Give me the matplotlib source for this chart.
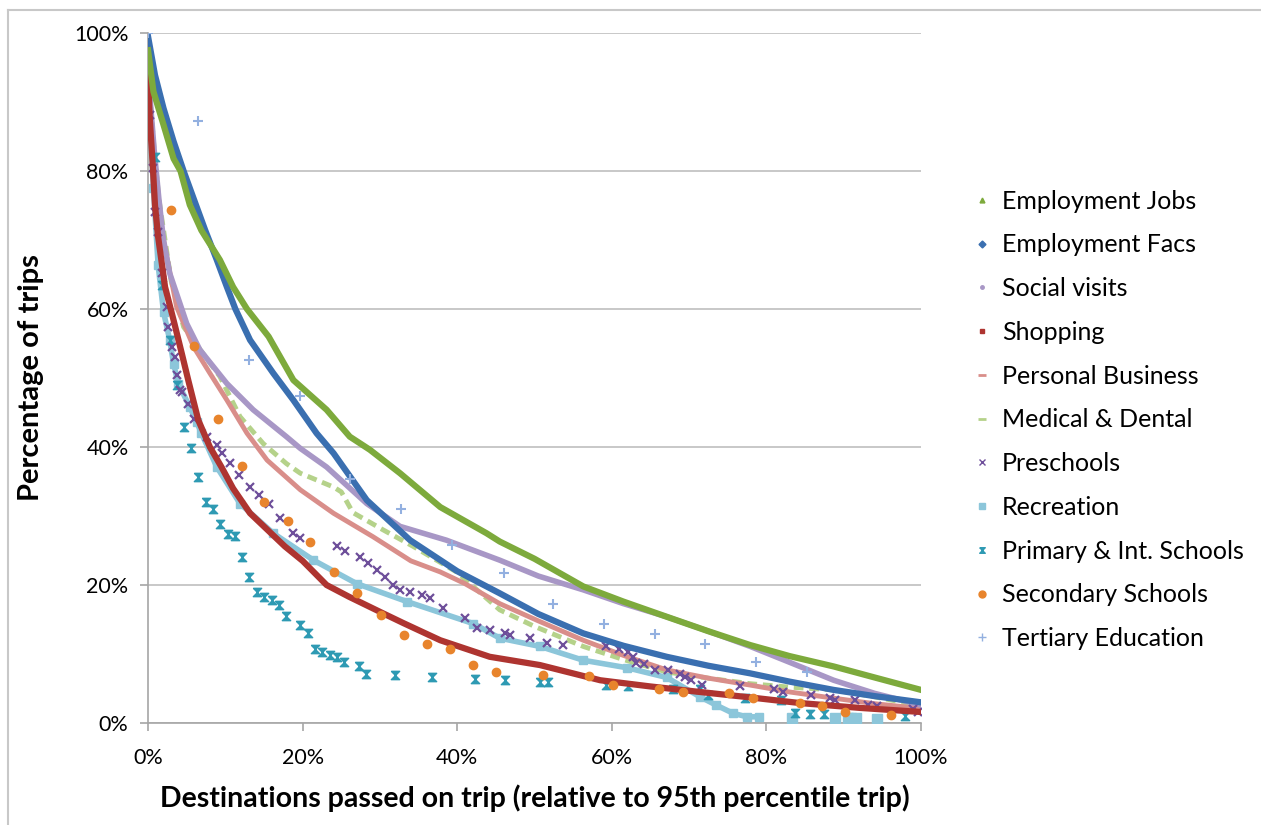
import matplotlib
matplotlib.use("Agg")
import matplotlib.pyplot as plt
from matplotlib.lines import Line2D
from matplotlib.ticker import PercentFormatter

plt.rcParams['font.family'] = ['Lato', 'DejaVu Sans']

# values (percent)
jobs_x = [0, 0.7, 2.0, 3.3, 4.2, 5.4, 6.9, 9.3, 11.0, 12.8, 15.6, 18.8, 21.0, 23.1, 26.1, 28.7, 32.6, 37.8,
          43.8, 45.5, 50.0, 56.3, 61.5, 67.1, 72.5, 77.9, 83.0, 88.7, 94.0, 100]
jobs_y = [97.5, 91.5, 86.7, 81.8, 80, 75.1, 71.4, 67.1, 63.2, 60, 56, 49.7, 47.5, 45.4, 41.5, 39.6, 36.2, 31.3,
          27.5, 26.3, 23.8, 19.8, 17.6, 15.4, 13.3, 11.3, 9.7, 8.2, 6.6, 4.8]

facs_x = [0, 0.9, 2.0, 3.3, 4.6, 5.9, 7.4, 8.9, 10.2, 11.3, 13.2, 16.2, 18.8, 21.8, 24.0, 28.3, 33.9, 40.0,
          45.5, 50.5, 56.3, 61.5, 67.1, 72.5, 77.9, 83.0, 88.7, 94.0, 100]
facs_y = [99.5, 93.9, 89.1, 84.3, 80, 76.0, 71.4, 67.1, 63.2, 60, 55.5, 50.7, 46.8, 42.0, 39.1, 32.3, 26.5,
          22.0, 18.8, 15.8, 13.0, 11.2, 9.6, 8.3, 7.2, 6.0, 4.8, 3.9, 3.0]

social_x = [0, 0.3, 0.8, 1.4, 2.0, 2.8, 5.0, 6.7, 10.2, 13.6, 17.9, 19.7, 23.1, 28.3, 32.6, 38.6, 45.5, 50.5,
            56.3, 61.5, 67.1, 72.5, 77.9, 83.0, 88.7, 94.0, 100]
social_y = [96, 90, 83, 76, 70, 65.2, 57.9, 54.1, 49.2, 45.4, 41.5, 39.8, 37.1, 31.8, 28.5, 26.5, 23.6, 21.3,
            19.3, 17.3, 15.4, 13.3, 11.1, 8.8, 6.2, 4.3, 2.6]

shop_x = [0, 0.2, 0.6, 0.9, 1.3, 2.2, 3.3, 4.4, 5.2, 6.5, 8.0, 9.5, 11.0, 13.2, 17.7, 20.0, 23.1, 26.0, 30.4,
          33.0, 37.8, 44.2, 50.7, 58.5, 65.0, 71.4, 78.0, 84.3, 92.0, 100]
shop_y = [94, 88, 81, 75, 70.5, 63.2, 58.4, 53.4, 49.7, 43.9, 40, 37.1, 34.0, 30.4, 25.6, 23.5, 20, 18.3, 15.9,
          14.5, 12.0, 9.6, 8.4, 6.2, 5.3, 4.5, 3.7, 2.9, 2.2, 1.6]

pers_x = [0, 0.3, 0.7, 1.2, 2.0, 3.7, 5.9, 8.0, 10.2, 12.8, 15.4, 19.7, 24.0, 29.1, 34.0, 37.8, 41.0, 45.5,
          50.5, 56.3, 61.5, 67.1, 72.5, 77.9, 83.0, 88.7, 94.0, 100]
pers_y = [94, 88, 82, 75, 70, 60.3, 54.5, 50.7, 46.8, 42, 38.1, 33.8, 30.4, 27.0, 23.5, 21.9, 20.2, 17.3,
          14.8, 12.0, 9.8, 7.7, 6.5, 5.5, 4.5, 3.6, 2.8, 2.1]

med_x = [0, 0.3, 0.8, 1.4, 2.2, 3.0, 4.6, 9.3, 11.9, 14.9, 17.9, 19.7, 24.0, 25.0, 26.5, 30.4, 34.3, 39.9,
         45.5, 50.0, 56.3, 61.5, 67.1, 72.5, 77.9, 83.0, 88.7, 94.0, 99.4]
med_y = [96, 90, 83, 76, 70, 64, 57.4, 50.2, 44.4, 40.5, 37.6, 36.2, 34.2, 33.5, 30.5, 28.0, 25.6, 21.9,
         16.4, 14.0, 11.1, 9.2, 7.4, 6.5, 5.7, 5.2, 4.8, 3.8, 2.6]

pre_x = [0.2, 0.7, 0.9, 1.3, 1.8, 2.4, 2.6, 3.1, 3.5, 3.7, 4.1, 4.4, 5.2, 6.0, 7.6, 8.9, 9.6, 10.6, 11.8, 13.2,
         14.4, 15.6, 17.1, 18.8, 19.7, 24.4, 25.5, 27.4, 28.5, 29.6, 30.6, 31.7, 32.6, 33.9, 35.4, 36.5, 38.2,
         41.0, 42.5, 44.2, 46.2, 46.8, 49.4, 51.6, 53.7, 59.3, 60.9, 62.1, 62.7, 63.1, 64.1, 65.6, 67.3, 68.8,
         69.5, 70.3, 71.6, 76.6, 81.0, 82.2, 85.8, 88.2, 88.9, 91.4, 93.2, 94.3, 99.0, 99.6]
pre_y = [88.1, 80.4, 74.1, 71.2, 65.2, 60.3, 57.4, 54.5, 53.1, 50.4, 48.3, 48.0, 46.3, 44.0, 41.5, 40.3, 39.2,
         37.7, 36.0, 34.2, 33.0, 31.8, 29.7, 27.5, 26.8, 25.6, 25.0, 24.1, 23.2, 22.2, 21.2, 20.0, 19.3, 19.0,
         18.6, 18.1, 16.7, 15.2, 13.8, 13.5, 13.0, 12.7, 12.3, 11.6, 11.3, 11.1, 10.7, 10.3, 9.6, 8.7, 8.6, 7.7,
         7.7, 7.1, 6.7, 6.2, 5.5, 5.3, 5.0, 4.5, 4.0, 3.6, 3.4, 3.3, 2.6, 2.4, 2.1, 1.6]

rec_x = [0, 0.7, 1.3, 2.0, 2.8, 3.3, 3.9, 5.4, 6.3, 6.9, 8.9, 11.9, 16.2, 21.4, 27.0, 33.5, 42.1, 45.5,
         50.7, 56.3, 62.0, 67.1, 71.4, 73.5, 75.7, 77.5, 79.1]
rec_y = [92, 77.5, 66.4, 59.6, 55.5, 52.1, 49.2, 45.8, 43.6, 42, 37.1, 31.8, 27.5, 23.6, 20.2, 17.6, 14.4, 12.3,
         11.1, 9.1, 8.0, 6.6, 3.8, 2.6, 1.4, 0.9, 0.9]
rec_tail_x = [83.3, 88.9, 90.5, 91.0, 91.6, 94.3]
rec_tail_y = [0.8, 0.8, 0.7, 0.7, 0.7, 0.6]

prim_x = [0.9, 1.8, 2.8, 3.7, 4.6, 5.6, 6.5, 7.5, 8.4, 9.3, 10.3, 11.3, 12.1, 13.1, 14.1, 15.0, 16.0, 17.0,
          17.8, 19.7, 20.7, 21.6, 22.5, 23.5, 24.4, 25.4, 27.3, 28.2, 32.0, 36.7, 42.3, 46.2, 50.7, 51.8, 59.2,
          62.1, 67.9, 71.4, 72.4, 77.2, 81.9, 83.7, 85.6, 87.5, 97.9]
prim_y = [82.1, 63.5, 55.5, 49.0, 42.9, 39.8, 35.7, 32.1, 31.0, 28.9, 27.4, 27.1, 24.0, 21.2, 19.0, 18.2, 17.8,
          17.1, 15.5, 14.2, 13.1, 10.8, 10.3, 9.8, 9.5, 8.9, 8.2, 7.1, 7.0, 6.6, 6.4, 6.2, 5.9, 5.9, 5.5, 5.4,
          5.0, 5.0, 4.1, 3.6, 3.3, 1.5, 1.3, 1.3, 1.0]

sec_x = [3.0, 6.0, 9.0, 12.1, 15.0, 18.1, 21.0, 24.0, 27.0, 30.1, 33.1, 36.1, 39.1, 42.0, 45.0, 51.1, 57.1,
         60.1, 66.1, 69.2, 75.2, 78.2, 84.3, 87.2, 90.2, 96.1]
sec_y = [74.3, 54.6, 44.0, 37.3, 32.1, 29.3, 26.3, 21.9, 18.9, 15.7, 12.7, 11.4, 10.7, 8.4, 7.4, 7.0, 6.8,
         5.5, 5.0, 4.5, 4.3, 3.6, 2.9, 2.5, 1.6, 1.2]

tert_x = [0, 6.5, 13.1, 19.7, 26.1, 32.7, 39.3, 46.0, 52.4, 59.0, 65.6, 72.1, 78.7, 85.3]
tert_y = [100, 87.2, 52.6, 47.4, 35.3, 31.0, 25.8, 21.7, 17.3, 14.3, 12.9, 11.5, 8.9, 7.4]

c_jobs = '#7DAA3C'
c_facs = '#3A6FB0'
c_social = '#A897C6'
c_shop = '#AE3430'
c_pers = '#D98E8A'
c_med = '#B5D28A'
c_pre = '#6E4F9A'
c_rec = '#8CC6DA'
c_prim = '#2E9AB3'
c_sec = '#E8842C'
c_tert = '#93B0E0'

hourglass = [(-1, 1), (1, 1), (-1, -1), (1, -1), (-1, 1)]

fig = plt.figure(figsize=(12.61, 8.25), dpi=100)
ax = fig.add_axes([0.1174, 0.1236, 0.613, 0.8364])

ax.plot(rec_x, rec_y, color=c_rec, lw=4, zorder=3)
ax.plot(rec_x, rec_y, ls='', marker='s', ms=6, color=c_rec, zorder=3)
ax.plot(rec_tail_x, rec_tail_y, ls='', marker='s', ms=7, color=c_rec, zorder=3)
ax.plot(prim_x, prim_y, ls='', marker=hourglass, ms=6, color=c_prim, zorder=4)
ax.plot(pre_x, pre_y, ls='', marker='x', ms=6, mew=1.6, color=c_pre, zorder=4)
ax.plot(med_x, med_y, color=c_med, lw=3.5, dashes=(2.0, 1.2), zorder=3)
ax.plot(pers_x, pers_y, color=c_pers, lw=3.5, zorder=3)
ax.plot(social_x, social_y, color=c_social, lw=4, zorder=3)
ax.plot(shop_x, shop_y, color=c_shop, lw=4.5, zorder=4)
ax.plot(facs_x, facs_y, color=c_facs, lw=4.5, zorder=4)
ax.plot(jobs_x, jobs_y, color=c_jobs, lw=4.5, zorder=4)
ax.plot(sec_x, sec_y, ls='', marker='o', ms=6, color=c_sec, zorder=5)
ax.plot(tert_x, tert_y, ls='', marker='+', ms=7, mew=1.5, color=c_tert, zorder=5)

ax.set_xlim(0, 100)
ax.set_ylim(0, 100)
ax.set_xticks([0, 20, 40, 60, 80, 100])
ax.set_yticks([0, 20, 40, 60, 80, 100])
ax.xaxis.set_major_formatter(PercentFormatter(decimals=0))
ax.yaxis.set_major_formatter(PercentFormatter(decimals=0))
ax.grid(axis='y', color='#BFBFBF', lw=1.2, zorder=0)
ax.set_axisbelow(True)
for s in ['top', 'right']:
    ax.spines[s].set_visible(False)
for s in ['left', 'bottom']:
    ax.spines[s].set_color('#A6A6A6')
    ax.spines[s].set_linewidth(1.2)
ax.tick_params(axis='both', colors='#A6A6A6', length=6, width=1.2, labelsize=15.5, labelcolor='black')
ax.tick_params(axis='x', pad=12)
ax.tick_params(axis='y', pad=8)

ax.set_xlabel("Destinations passed on trip (relative to 95th percentile trip)", fontsize=20.5,
              fontweight='bold', labelpad=12)
ax.set_ylabel("Percentage of trips", fontsize=21, fontweight='bold', labelpad=22)

names = ["Employment Jobs", "Employment Facs", "Social visits", "Shopping", "Personal Business",
         "Medical & Dental", "Preschools", "Recreation", "Primary & Int. Schools", "Secondary Schools",
         "Tertiary Education"]
handles = [
    Line2D([], [], ls='', marker='^', ms=3.5, color=c_jobs),
    Line2D([], [], ls='', marker='D', ms=3.5, color=c_facs),
    Line2D([], [], ls='', marker='o', ms=2.5, color=c_social),
    Line2D([], [], ls='', marker='s', ms=3.5, color=c_shop),
    Line2D([], [], ls='', marker='_', ms=6, mew=2, color=c_pers),
    Line2D([], [], ls='', marker='_', ms=6, mew=2, color=c_med),
    Line2D([], [], ls='', marker='x', ms=5, mew=1, color=c_pre),
    Line2D([], [], ls='', marker='s', ms=5, color=c_rec),
    Line2D([], [], ls='', marker=hourglass, ms=4, color=c_prim),
    Line2D([], [], ls='', marker='o', ms=5, color=c_sec),
    Line2D([], [], ls='', marker='+', ms=6, mew=1, color=c_tert),
]
fig.legend(handles, names, loc='center left', bbox_to_anchor=(0.763, 0.491), frameon=False,
           fontsize=18, labelspacing=0.83, handlelength=0.6, handletextpad=0.5, borderpad=0)

# chart area frame (top and left edges visible in reference)
fig.add_artist(Line2D([0.006, 1.0], [1 - 10 / 825, 1 - 10 / 825], transform=fig.transFigure,
                      color='#C8C8C8', lw=1.5))
fig.add_artist(Line2D([8 / 1261, 8 / 1261], [0, 1 - 10 / 825], transform=fig.transFigure,
                      color='#C8C8C8', lw=1.5))

fig.savefig("out.png", dpi=100, facecolor='white')
